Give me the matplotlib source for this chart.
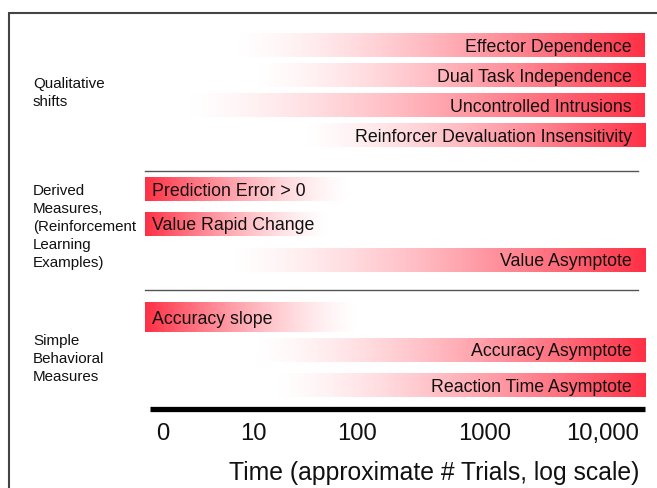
import numpy as np
import matplotlib
matplotlib.use("Agg")
import matplotlib.pyplot as plt
from matplotlib.colors import LinearSegmentedColormap
from matplotlib.patches import Rectangle

# ---------------- data ----------------
bar_labels = ["Effector Dependence", "Dual Task Independence", "Uncontrolled Intrusions",
              "Reinforcer Devaluation Insensitivity",
              "Prediction Error > 0", "Value Rapid Change", "Value Asymptote",
              "Accuracy slope", "Accuracy Asymptote", "Reaction Time Asymptote"]
bar_group = [0, 0, 0, 0, 1, 1, 1, 2, 2, 2]
bar_rising = [True, True, True, True, False, False, True, False, True, True]
# log10(trials)-like position where the gradient reaches white
bar_fade = [0.61, 0.79, 0.155, 1.245, 1.70, 1.52, 0.55, 1.79, 0.79, 0.97]
group_labels = ["Qualitative\nshifts",
                "Derived\nMeasures,\n(Reinforcement\nLearning\nExamples)",
                "Simple\nBehavioral\nMeasures"]
tick_labels = ["0", "10", "100", "1000", "10,000"]
tick_pos = [0.0, 0.818, 1.764, 2.927, 4.0]
xlabel = "Time (approximate # Trials, log scale)"
x_min, x_max = -0.164, 4.382

# ---------------- layout (pixels) ----------------
W, H = 657, 488
row_center = [45, 75, 105, 135, 189, 224, 260, 317, 350, 385]
row_height = [24, 24, 24, 24, 24, 24, 24, 30, 24, 24]
group_label_y = [83, 190, 340]
separator_y = [171, 290]
RED = "#FF3045"

plt.rcParams['font.family'] = ['Liberation Sans', 'DejaVu Sans']
fig = plt.figure(figsize=(W / 100, H / 100), dpi=100)
ax = fig.add_axes([0, 0, 1, 1])
px0, scale = 163, 110.0
ax.set_xlim(-px0 / scale, (W - px0) / scale)
ax.set_ylim(H, 0)
ax.axis("off")

cmap_rise = LinearSegmentedColormap.from_list("rise", ["#FFFFFF", RED])
grad = (np.linspace(0, 1, 256) ** 1.45).reshape(1, -1)

for lab, rising, fade, yc, h in zip(bar_labels, bar_rising, bar_fade, row_center, row_height):
    if rising:
        x0, x1, g = fade, x_max, grad
    else:
        x0, x1, g = x_min, fade, grad[:, ::-1]
    ax.imshow(g, cmap=cmap_rise, vmin=0, vmax=1, aspect="auto", interpolation="bilinear",
              extent=[x0, x1, yc + h / 2, yc - h / 2], zorder=1)
    if rising:
        ax.text((632 - px0) / scale, yc + 2, lab, ha="right", va="center",
                fontsize=12.8, color="#111111", zorder=3)
    else:
        ax.text((152 - px0) / scale, yc + 2, lab, ha="left", va="center",
                fontsize=12.8, color="#111111", zorder=3)

for sy in separator_y:
    ax.plot([x_min, (638 - px0) / scale], [sy, sy], color="#555555", lw=1.0, zorder=2)

ax.plot([(150 - px0) / scale, x_max], [409, 409], color="black", lw=3.8,
        solid_capstyle="butt", zorder=2)
for tp, tl in zip(tick_pos, tick_labels):
    ax.text(tp, 434, tl, ha="center", va="center", fontsize=17.2, color="#111111")
ax.text((434 - px0) / scale, 473, xlabel, ha="center", va="center",
        fontsize=17.8, color="#111111")

for gl, gy in zip(group_labels, group_label_y):
    fig.text(33 / W, 1 - (gy - 6) / H, gl, ha="left", va="top", fontsize=10.9,
             color="#111111", linespacing=1.37)

fig.add_artist(Rectangle((9 / W, -0.1), 1.2, 1 - 13 / H + 0.1, transform=fig.transFigure,
                         fill=False, edgecolor="#444444", lw=1.5))

fig.savefig("out.png", dpi=100)
